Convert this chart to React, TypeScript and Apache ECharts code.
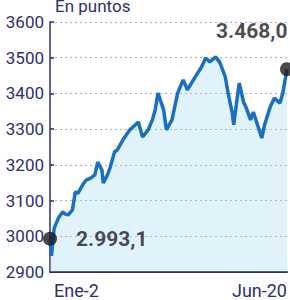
import React, { useEffect, useRef } from "react";
import * as echarts from "echarts";

const unitLabel = "En puntos";
const dates = [
  "2019-01-02", "2019-01-03", "2019-01-05", "2019-01-08", "2019-01-11", "2019-01-13", "2019-01-15",
  "2019-01-18", "2019-01-20", "2019-01-22", "2019-01-26", "2019-01-28", "2019-01-31", "2019-02-03",
  "2019-02-05", "2019-02-08", "2019-02-09", "2019-02-12", "2019-02-14", "2019-02-17", "2019-02-19",
  "2019-02-23", "2019-02-28", "2019-03-06", "2019-03-09", "2019-03-13", "2019-03-16", "2019-03-18",
  "2019-03-20", "2019-03-24", "2019-03-26", "2019-03-30", "2019-04-03", "2019-04-07", "2019-04-10",
  "2019-04-15", "2019-04-20", "2019-04-23", "2019-04-26", "2019-04-30", "2019-05-03", "2019-05-07",
  "2019-05-09", "2019-05-12", "2019-05-13", "2019-05-15", "2019-05-17", "2019-05-20", "2019-05-22",
  "2019-05-25", "2019-05-27", "2019-05-30", "2019-06-02", "2019-06-04", "2019-06-08", "2019-06-11",
  "2019-06-15", "2019-06-17", "2019-06-19", "2019-06-20",
];
const values = [
  2993.1, 2945, 3023, 3051, 3068, 3062, 3060,
  3074, 3124, 3121, 3149, 3158, 3163, 3172,
  3208, 3186, 3149, 3172, 3194, 3236, 3242,
  3270, 3298, 3320, 3278, 3298, 3326, 3354,
  3401, 3354, 3298, 3326, 3401, 3438, 3410,
  3443, 3474, 3499, 3488, 3502, 3488, 3446,
  3401, 3345, 3312, 3373, 3429, 3376, 3359,
  3326, 3348, 3312, 3275, 3312, 3362, 3387,
  3373, 3401, 3446, 3468.0,
];
const xTickDates = ["2019-01-02", "2019-06-20"];
const xTickLabels = ["Ene-2", "Jun-20"];
const yMin = 2900;
const yMax = 3600;
const yStep = 100;

const NAVY = "#2c2f70";
const FONT = "Roboto";

function fmtEs(v: number) {
  const s = v.toFixed(1).split(".");
  return s[0].replace(/\B(?=(\d{3})+(?!\d))/g, ".") + "," + s[1];
}

function toTime(d: string) {
  const [y, m, day] = d.split("-").map(Number);
  return Date.UTC(y, m - 1, day);
}

export default function App() {
  const ref = useRef<HTMLDivElement>(null);
  useEffect(() => {
    if (!ref.current) return;
    const chart = echarts.init(ref.current, undefined, { renderer: "svg" });
    const tickTimes = xTickDates.map(toTime);
    const times = dates.map(toTime);
    const last = values.length - 1;
    chart.setOption({
      animation: false,
      backgroundColor: "#ffffff",
      title: {
        text: unitLabel,
        left: 50,
        top: -8,
        textStyle: { fontFamily: FONT, fontSize: 17, fontWeight: "normal", color: NAVY },
      },
      grid: { left: 50, right: 3, top: 22, bottom: 28 },
      xAxis: {
        type: "value",
        min: tickTimes[0],
        max: tickTimes[tickTimes.length - 1],
        axisLine: { show: true, onZero: false, lineStyle: { color: NAVY, width: 2 } },
        axisTick: { show: false },
        splitLine: { show: false },
        axisLabel: {
          customValues: tickTimes,
          alignMinLabel: "left",
          alignMaxLabel: "right",
          margin: 9,
          fontFamily: FONT,
          fontSize: 18,
          color: NAVY,
          padding: [0, 0, 0, 4],
          formatter: (v: number) => {
            const i = tickTimes.findIndex((t) => Math.abs(t - v) < 43200000);
            return i >= 0 ? xTickLabels[i] : "";
          },
        },
      },
      yAxis: {
        type: "value",
        min: yMin,
        max: yMax,
        interval: yStep,
        axisLine: { show: true, lineStyle: { color: NAVY, width: 1.5 } },
        axisTick: { show: true, inside: true, length: 4, lineStyle: { color: NAVY, width: 1.5 } },
        splitLine: { show: true, lineStyle: { color: "#a3acd2", type: [2, 3], width: 1 } },
        axisLabel: {
          fontFamily: FONT,
          fontSize: 17,
          color: NAVY,
          margin: 6,
          formatter: (v: number) => String(v),
        },
      },
      series: [
        {
          type: "line",
          data: times.map((t, i) => [t, values[i]]),
          showSymbol: false,
          lineStyle: { color: "#1b6fc2", width: 3.5 },
          areaStyle: { color: "rgba(150,215,242,0.42)", origin: "start" },
          z: 2,
        },
        {
          type: "scatter",
          symbolSize: 14,
          itemStyle: { color: "#1b1b1f" },
          z: 3,
          data: [
            {
              value: [times[0], values[0]],
              label: {
                show: true,
                position: "right",
                offset: [14, 0],
                formatter: fmtEs(values[0]),
              },
            },
            {
              value: [times[last], values[last]],
              label: {
                show: true,
                position: "top",
                align: "left",
                offset: [-71, -16],
                formatter: fmtEs(values[last]),
              },
            },
          ],
          label: {
            fontFamily: FONT,
            fontSize: 21,
            fontWeight: "bold",
            color: "#1b1b1f",
          },
        },
      ],
    });
    return () => chart.dispose();
  }, []);
  return <div ref={ref} style={{ width: 290, height: 300, position: "absolute", left: 0, top: 0 }} />;
}
